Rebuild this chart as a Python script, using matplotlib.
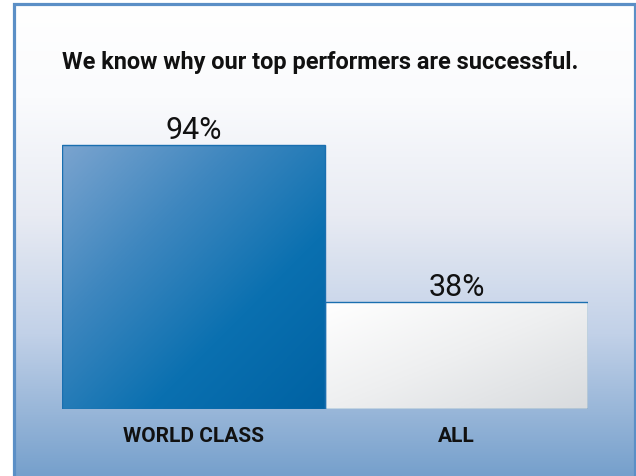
import numpy as np
import matplotlib
matplotlib.use("Agg")
import matplotlib.pyplot as plt
from matplotlib.colors import LinearSegmentedColormap
from matplotlib.patches import Rectangle

title = "We know why our top performers are successful."
categories = ["WORLD CLASS", "ALL"]
values = [94, 38]
value_labels = ["94%", "38%"]

bar_cmaps = [
    LinearSegmentedColormap.from_list("wc", ["#7ba4cf", "#3f87bf", "#0a70b0", "#0062a3"]),
    LinearSegmentedColormap.from_list("all", ["#ffffff", "#eeeff0", "#d8dbde"]),
]
bg_cmap = LinearSegmentedColormap.from_list(
    "bg", [(0, "#ffffff"), (0.2, "#fafbfd"), (0.45, "#e8ebf3"), (0.7, "#c2d1e8"), (1, "#76a0cc")])

fig = plt.figure(figsize=(6.36, 4.77), dpi=100)

# background gradient panel with border
bg = fig.add_axes([0, 0, 1, 1])
bg.set_axis_off()
grad = np.linspace(0, 1, 256).reshape(-1, 1)
bx0, by0, bx1, by1 = 14.5 / 636, 0, 635 / 636, 1 - 4.5 / 477
bg.imshow(grad, cmap=bg_cmap, aspect="auto", extent=[bx0, bx1, by0, by1], origin="upper")
bg.set_xlim(0, 1)
bg.set_ylim(0, 1)
bg.add_patch(Rectangle((bx0, -0.01), bx1 - bx0, by1 + 0.01, fill=False,
                       edgecolor="#5b8fc6", linewidth=2.3))

fig.text(62 / 636, 1 - 63 / 477, title, fontsize=16.9, fontweight="bold",
         family=["Roboto", "DejaVu Sans"], color="#111111", va="center", ha="left")

ax = fig.add_axes([62 / 636, 67 / 477, 526 / 636, 281 / 477])
ax.patch.set_alpha(0)
x = np.arange(len(categories))
bars = ax.bar(x, values, width=1.0, facecolor="none", edgecolor="#1a6fb0", linewidth=1.0, zorder=3)
ax.set_xlim(-0.5, len(categories) - 0.5)
ax.set_ylim(0, 100)

yy, xx = np.mgrid[0:1:200j, 0:1:200j]
diag = (xx + yy) / 2
for b, cm in zip(bars, bar_cmaps):
    bx, by = b.get_x(), b.get_y()
    w, h = b.get_width(), b.get_height()
    im = ax.imshow(diag, cmap=cm, extent=[bx, bx + w, by, by + h], origin="upper",
                   aspect="auto", zorder=2)
    im.set_clip_path(b)

for xi, v, lab in zip(x, values, value_labels):
    ax.text(xi, v + 2.6, lab, ha="center", va="baseline", fontsize=22,
            family=["Roboto", "DejaVu Sans"], color="#111111")

ax.set_xticks(x)
ax.set_xticklabels(categories, fontsize=15, fontweight="bold", family=["Roboto", "DejaVu Sans"],
                   color="#111111")
ax.tick_params(axis="x", length=0, pad=12)
ax.set_yticks([])
for s in ax.spines.values():
    s.set_visible(False)

fig.savefig("out.png", dpi=100)
